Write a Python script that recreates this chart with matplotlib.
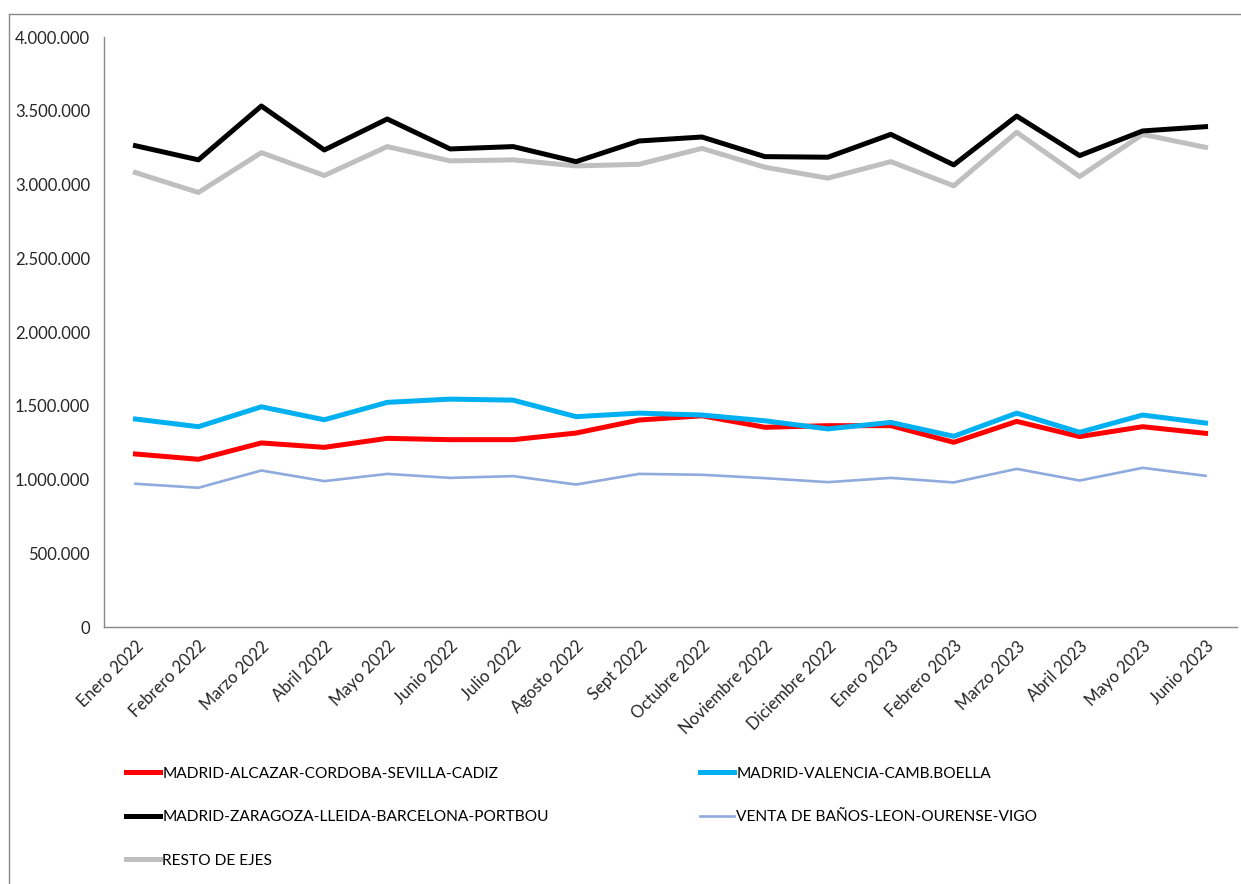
import matplotlib
matplotlib.use("Agg")
import matplotlib.pyplot as plt
from matplotlib.ticker import FuncFormatter
from matplotlib.lines import Line2D

# months on the category axis
months = ["Enero 2022", "Febrero 2022", "Marzo 2022", "Abril 2022", "Mayo 2022",
          "Junio 2022", "Julio 2022", "Agosto 2022", "Sept 2022", "Octubre 2022",
          "Noviembre 2022", "Diciembre 2022", "Enero 2023", "Febrero 2023",
          "Marzo 2023", "Abril 2023", "Mayo 2023", "Junio 2023"]

# series values
cadiz = [1173000, 1137000, 1248000, 1218000, 1279000, 1270000, 1270000, 1315000, 1403000,
         1432000, 1354000, 1365000, 1365000, 1252000, 1394000, 1291000, 1358000, 1313000]
valencia = [1410000, 1358000, 1493000, 1405000, 1523000, 1545000, 1538000, 1426000, 1450000,
            1437000, 1398000, 1343000, 1387000, 1293000, 1450000, 1320000, 1437000, 1383000]
portbou = [3263000, 3167000, 3532000, 3234000, 3444000, 3241000, 3257000, 3155000, 3295000,
           3322000, 3189000, 3185000, 3340000, 3133000, 3464000, 3196000, 3363000, 3392000]
vigo = [971000, 944000, 1061000, 989000, 1038000, 1011000, 1023000, 966000, 1038000,
        1032000, 1009000, 982000, 1011000, 980000, 1072000, 993000, 1079000, 1025000]
resto = [3081000, 2946000, 3216000, 3061000, 3257000, 3160000, 3167000, 3126000, 3137000,
         3245000, 3117000, 3043000, 3155000, 2991000, 3354000, 3054000, 3340000, 3252000]

labels = ["MADRID-ALCAZAR-CORDOBA-SEVILLA-CADIZ", "MADRID-VALENCIA-CAMB.BOELLA",
          "MADRID-ZARAGOZA-LLEIDA-BARCELONA-PORTBOU", "VENTA DE BAÑOS-LEON-OURENSE-VIGO",
          "RESTO DE EJES"]
yticks = [0, 500000, 1000000, 1500000, 2000000, 2500000, 3000000, 3500000, 4000000]

W, H = 1241, 884
fig = plt.figure(figsize=(W / 100, H / 100), dpi=100)
ax = fig.add_axes([104 / W, 1 - 627 / H, (1237 - 104) / W, (627 - 37) / H])

x = list(range(len(months)))
l_resto, = ax.plot(x, resto, color="#BFBFBF", lw=3.6, label=labels[4], zorder=2)
l_cadiz, = ax.plot(x, cadiz, color="#FF0000", lw=3.6, label=labels[0], zorder=3)
l_val, = ax.plot(x, valencia, color="#00B0F0", lw=3.6, label=labels[1], zorder=4)
l_port, = ax.plot(x, portbou, color="#000000", lw=3.6, label=labels[2], zorder=5)
l_vigo, = ax.plot(x, vigo, color="#8FAADC", lw=1.9, label=labels[3], zorder=6)

ax.set_xlim(-0.5, len(months) - 0.5)
ax.set_ylim(0, 4000000)
ax.set_yticks(yticks)
ax.yaxis.set_major_formatter(FuncFormatter(lambda v, p: f"{int(v):,}".replace(",", ".")))
ax.set_xticks(x)
ax.set_xticklabels(months, rotation=45, ha="right", rotation_mode="anchor")

for s in ["top", "right"]:
    ax.spines[s].set_visible(False)
for s in ["left", "bottom"]:
    ax.spines[s].set_color("#898989")
    ax.spines[s].set_linewidth(1.0)
ax.tick_params(length=0, labelsize=12, colors="#262626")
ax.tick_params(axis="y", pad=10)
ax.tick_params(axis="x", pad=8)
for t in ax.get_xticklabels() + ax.get_yticklabels():
    t.set_fontfamily("Lato")

# legend laid out row by row like the original
handles = [l_cadiz, l_port, l_resto, l_val, l_vigo]
fig.legend(handles, [h.get_label() for h in handles], ncol=2, frameon=False,
           loc="upper left", bbox_to_anchor=(118 / W, 1 - 759 / H),
           borderpad=0, handlelength=2.2, handletextpad=0.15,
           labelspacing=1.89, columnspacing=9.7,
           prop={"family": "Lato", "size": 11.2})

# outer chart frame
fig.add_artist(Line2D([9 / W, 1.0], [1 - 14 / H, 1 - 14 / H], color="#898989", lw=1.0))
fig.add_artist(Line2D([9 / W, 9 / W], [0.0, 1 - 14 / H], color="#898989", lw=1.0))

fig.savefig("out.png", dpi=100)
